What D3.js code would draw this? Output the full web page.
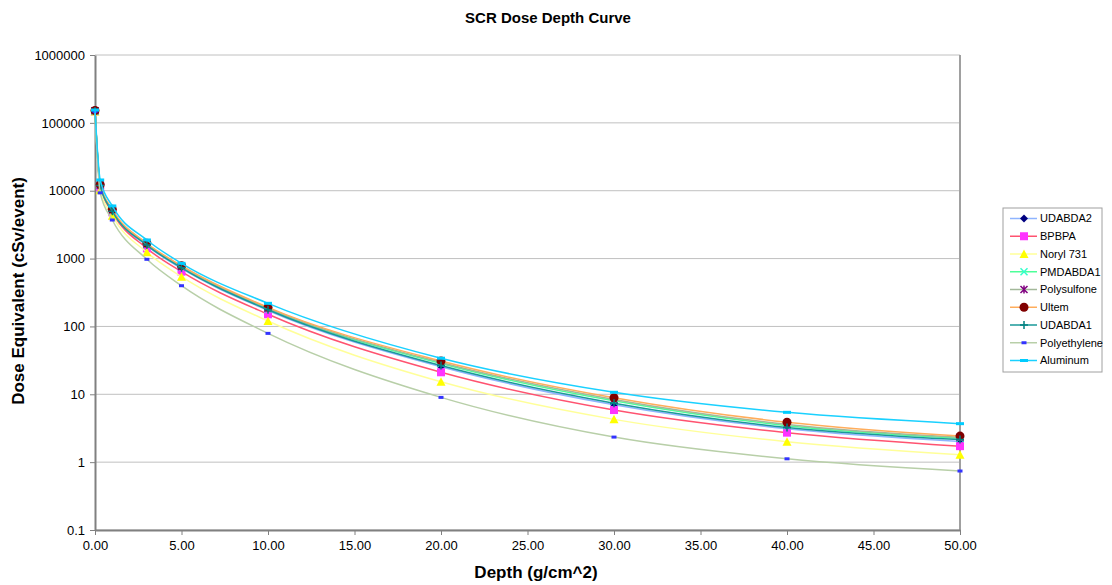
<!DOCTYPE html>
<html>
<head>
    <meta charset="utf-8">
    <title>SCR Dose Depth Curve</title>
    <script type="text/javascript" src="https://cdn.jsdelivr.net/npm/d3@7/dist/d3.min.js"></script>
    <style type="text/css">
        html, body { margin: 0; background: #fff; }
        svg { font-family: "Liberation Sans", Arial, Helvetica, sans-serif; }
        .grid line { stroke: #c0c0c0; stroke-width: 1; }
        .axis text { font-size: 13px; fill: #000; }
        .axis path, .axis line { stroke: #808080; }
        .series { fill: none; stroke-width: 1.5; }
    </style>
</head>
<body>
<svg></svg>
<script type="text/javascript">
    var w = 1112, h = 585;
    var margin = {top: 55, right: 152, bottom: 55, left: 95};

    // depth values (g/cm^2)
    var depths = [0, 0.3, 1, 3, 5, 10, 20, 30, 40, 50];

    var names = ["UDABDA2", "BPBPA", "Noryl 731", "PMDABDA1", "Polysulfone",
                 "Ultem", "UDABDA1", "Polyethylene", "Aluminum"];

    var udabda2      = [149000, 11700, 4950, 1550, 715, 172, 25.5, 7.0, 3.1, 2.02];
    var bpbpa        = [148000, 11300, 4810, 1416, 641, 151, 21.1, 5.86, 2.72, 1.72];
    var noryl        = [147000, 10200, 4290, 1236, 541, 120, 15.3, 4.27, 2.0, 1.29];
    var pmdabda1     = [150000, 12000, 5100, 1610, 750, 181, 28.5, 8.0, 3.45, 2.25];
    var polysulfone  = [151000, 12100, 5200, 1640, 765, 185, 29.5, 8.4, 3.6, 2.32];
    var ultem        = [152000, 12300, 5320, 1680, 786, 191, 30.9, 8.9, 3.87, 2.42];
    var udabda1      = [150000, 11900, 5000, 1580, 730, 176, 26.5, 7.4, 3.25, 2.15];
    var polyethylene = [146000, 9300, 3700, 975, 398, 79, 9.0, 2.34, 1.12, 0.74];
    var aluminum     = [155000, 14400, 5960, 1880, 851, 219, 34, 10.7, 5.42, 3.69];

    var yTicks = [0.1, 1, 10, 100, 1000, 10000, 100000, 1000000];
    var xTicks = [0, 5, 10, 15, 20, 25, 30, 35, 40, 45, 50];

    var lineColors   = ["#8fb4ff", "#ff5370", "#ffff99", "#4dff99", "#a3b89a",
                        "#ffad5c", "#1a9999", "#b8cfa8", "#1ad1ff"];
    var markerColors = ["#000080", "#ff33ff", "#ffff00", "#33ffcc", "#800080",
                        "#800000", "#008080", "#3333ff", "#00ccff"];
    var markerTypes  = ["diamond", "square", "triangle", "x", "star",
                        "circle", "plus", "dash", "bar"];

    var allValues = [udabda2, bpbpa, noryl, pmdabda1, polysulfone, ultem, udabda1, polyethylene, aluminum];
    var series = names.map(function (n, i) {
        return {
            name: n, line: lineColors[i], color: markerColors[i], marker: markerTypes[i],
            values: depths.map(function (d, j) { return {x: d, y: allValues[i][j]}; })
        };
    });

    var svg = d3.select("svg").attr("width", w).attr("height", h);

    var x = d3.scaleLinear().domain([0, 50]).range([margin.left, w - margin.right]);
    var y = d3.scaleLog().domain([0.1, 1000000]).range([h - margin.bottom, margin.top]);

    // title
    svg.append("text")
        .attr("x", 548).attr("y", 23)
        .attr("text-anchor", "middle")
        .style("font-size", "15px").style("font-weight", "bold")
        .text("SCR Dose Depth Curve");

    // horizontal gridlines
    svg.append("g").attr("class", "grid")
        .selectAll("line").data(yTicks).enter().append("line")
        .attr("x1", x(0)).attr("x2", x(50))
        .attr("y1", function (d) { return y(d); })
        .attr("y2", function (d) { return y(d); });

    // right border
    svg.append("line")
        .attr("x1", x(50)).attr("x2", x(50))
        .attr("y1", y(1000000)).attr("y2", y(0.1))
        .attr("stroke", "#a0a0a0").attr("stroke-width", 2);

    var xAxis = svg.append("g").attr("class", "axis")
        .attr("transform", "translate(0," + (h - margin.bottom) + ")")
        .call(d3.axisBottom(x).tickValues(xTicks).tickSize(5).tickSizeOuter(0)
            .tickFormat(d3.format(".2f")));
    xAxis.select(".domain").attr("stroke-width", 2);
    xAxis.selectAll("text").attr("dy", "0.9em");

    var yAxis = svg.append("g").attr("class", "axis")
        .attr("transform", "translate(" + margin.left + ",0)")
        .call(d3.axisLeft(y).tickValues(yTicks).tickSize(5).tickSizeOuter(0)
            .tickFormat(function (d) { return d < 1 ? String(d) : d3.format("d")(d); }));
    yAxis.select(".domain").attr("stroke-width", 2);
    yAxis.selectAll("text").attr("dx", "-2px");

    // axis titles
    svg.append("text")
        .attr("x", 536).attr("y", 578)
        .attr("text-anchor", "middle")
        .style("font-size", "17px").style("font-weight", "bold")
        .text("Depth (g/cm^2)");

    svg.append("text")
        .attr("transform", "translate(24," + 291 + ") rotate(-90)")
        .attr("text-anchor", "middle")
        .style("font-size", "17px").style("font-weight", "bold")
        .text("Dose Equivalent (cSv/event)");

    var line = d3.line()
        .curve(d3.curveMonotoneX)
        .x(function (d) { return x(d.x); })
        .y(function (d) { return y(d.y); });

    function drawMarker(g, type, color) {
        switch (type) {
            case "diamond":
                g.append("path").attr("d", "M0,-4L4,0L0,4L-4,0Z").attr("fill", color);
                break;
            case "square":
                g.append("rect").attr("x", -4).attr("y", -4).attr("width", 8).attr("height", 8).attr("fill", color);
                break;
            case "triangle":
                g.append("path").attr("d", "M0,-4.5L4.5,4L-4.5,4Z").attr("fill", color);
                break;
            case "x":
                g.append("path").attr("d", "M-3.5,-3.5L3.5,3.5M-3.5,3.5L3.5,-3.5")
                    .attr("stroke", color).attr("stroke-width", 1.5);
                break;
            case "star":
                g.append("path").attr("d", "M-3.5,-3.5L3.5,3.5M-3.5,3.5L3.5,-3.5M0,-4L0,4")
                    .attr("stroke", color).attr("stroke-width", 1.5);
                break;
            case "circle":
                g.append("circle").attr("r", 4.5).attr("fill", color);
                break;
            case "plus":
                g.append("path").attr("d", "M0,-4L0,4M-4,0L4,0")
                    .attr("stroke", color).attr("stroke-width", 1.5);
                break;
            case "dash":
                g.append("rect").attr("x", -2.5).attr("y", -1.5).attr("width", 5).attr("height", 3).attr("fill", color);
                break;
            case "bar":
                g.append("rect").attr("x", -4).attr("y", -1.5).attr("width", 8).attr("height", 3).attr("fill", color);
                break;
        }
    }

    var sg = svg.append("g").selectAll("g.s").data(series).enter().append("g").attr("class", "s");

    sg.append("path")
        .attr("class", "series")
        .attr("stroke", function (d) { return d.line; })
        .attr("d", function (d) { return line(d.values); });

    sg.each(function (s) {
        d3.select(this).selectAll("g.m").data(s.values).enter().append("g")
            .attr("class", "m")
            .attr("transform", function (d) { return "translate(" + x(d.x) + "," + y(d.y) + ")"; })
            .each(function () { drawMarker(d3.select(this), s.marker, s.color); });
    });

    // legend
    var lg = svg.append("g").attr("transform", "translate(1003,208)");
    lg.append("rect")
        .attr("width", 99).attr("height", 164)
        .attr("fill", "#fff").attr("stroke", "#a0a0a0");

    var items = lg.selectAll("g.item").data(series).enter().append("g")
        .attr("class", "item")
        .attr("transform", function (d, i) { return "translate(0," + (10.5 + i * 17.75) + ")"; });
    items.append("line")
        .attr("x1", 7).attr("x2", 34)
        .attr("stroke", function (d) { return d.line; }).attr("stroke-width", 1.5);
    items.append("g").attr("transform", "translate(21,0)")
        .each(function (d) { drawMarker(d3.select(this), d.marker, d.color); });
    items.append("text")
        .attr("x", 37).attr("dy", "0.35em")
        .style("font-size", "11px")
        .text(function (d) { return d.name; });
</script>
</body>
</html>
